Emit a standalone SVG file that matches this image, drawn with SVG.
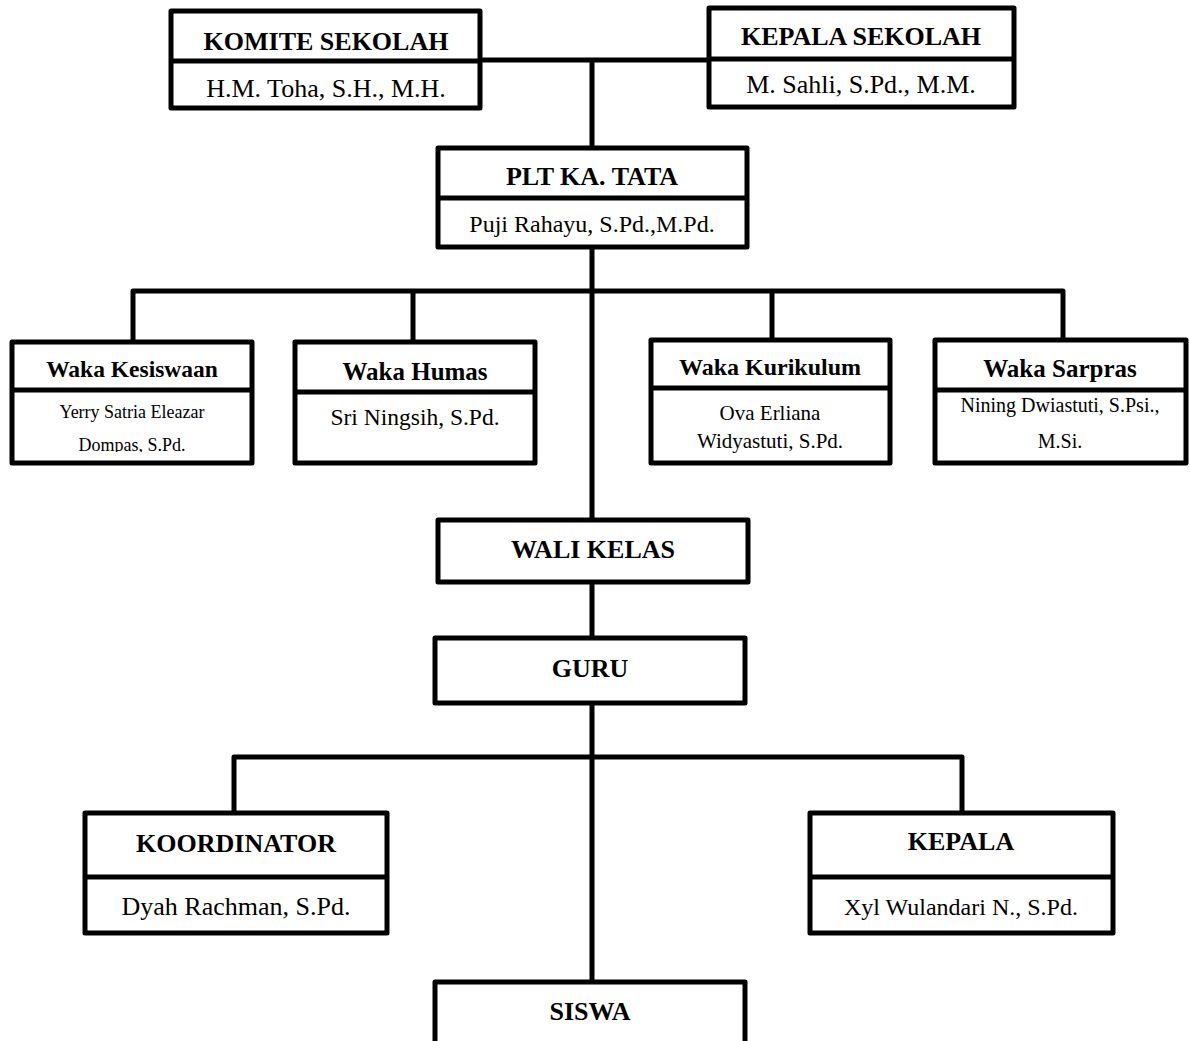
<svg xmlns="http://www.w3.org/2000/svg" width="1190" height="1041" viewBox="0 0 1190 1041">
<style>
.box{fill:#fff;stroke:#000;stroke-width:5;stroke-linejoin:round}
.div{stroke:#000;stroke-width:5;fill:none}
.con{stroke:#000;stroke-width:5;fill:none;stroke-linejoin:round}
text{font-family:"Liberation Serif","Times New Roman",serif;fill:#000;text-anchor:middle}
.b{font-weight:bold}
</style>
<defs>
<clipPath id="clipKes"><rect x="12" y="392" width="240" height="60"/></clipPath>
</defs>
<rect width="1190" height="1041" fill="#fff"/>
<g id="connectors" class="con">
<path d="M479 60 H709"/>
<path d="M592 60 V982"/>
<path d="M133 342 V291 H1063 V340"/>
<path d="M413 291 V342"/>
<path d="M772 291 V340"/>
<path d="M234 813 V757 H962 V813"/>
</g>
<g id="komite">
<rect class="box" x="171" y="11" width="309" height="97"/>
<line class="div" x1="171" y1="61" x2="480" y2="61"/>
<text class="b" x="326" y="50" font-size="26">KOMITE SEKOLAH</text>
<text x="326" y="97" font-size="26">H.M. Toha, S.H., M.H.</text>
</g>
<g id="kepala-sekolah">
<rect class="box" x="709" y="8" width="305" height="99"/>
<line class="div" x1="709" y1="59" x2="1014" y2="59"/>
<text class="b" x="861" y="45" font-size="26">KEPALA SEKOLAH</text>
<text x="861" y="93" font-size="26">M. Sahli, S.Pd., M.M.</text>
</g>
<g id="plt">
<rect class="box" x="438" y="148" width="309" height="99"/>
<line class="div" x1="438" y1="198" x2="747" y2="198"/>
<text class="b" x="592" y="185" font-size="26">PLT KA. TATA</text>
<text x="592" y="232" font-size="24">Puji Rahayu, S.Pd.,M.Pd.</text>
</g>
<g id="waka-kesiswaan">
<rect class="box" x="12" y="342" width="240" height="121"/>
<line class="div" x1="12" y1="390" x2="252" y2="390"/>
<text class="b" x="132" y="377" font-size="23.5">Waka Kesiswaan</text>
<g clip-path="url(#clipKes)">
<text x="132" y="418" font-size="18">Yerry Satria Eleazar</text>
<text x="132" y="451" font-size="18">Dompas, S.Pd.</text>
</g>
</g>
<g id="waka-humas">
<rect class="box" x="295" y="342" width="240" height="121"/>
<line class="div" x1="295" y1="392" x2="535" y2="392"/>
<text class="b" x="415" y="380" font-size="25">Waka Humas</text>
<text x="415" y="425" font-size="23.5">Sri Ningsih, S.Pd.</text>
</g>
<g id="waka-kurikulum">
<rect class="box" x="651" y="340" width="239" height="123"/>
<line class="div" x1="651" y1="388" x2="890" y2="388"/>
<text class="b" x="770" y="375" font-size="24">Waka Kurikulum</text>
<text x="770" y="420" font-size="21">Ova Erliana</text>
<text x="770" y="448" font-size="21">Widyastuti, S.Pd.</text>
</g>
<g id="waka-sarpras">
<rect class="box" x="935" y="340" width="251" height="123"/>
<line class="div" x1="935" y1="390" x2="1186" y2="390"/>
<text class="b" x="1060" y="377" font-size="25">Waka Sarpras</text>
<text x="1060" y="412" font-size="20">Nining Dwiastuti, S.Psi.,</text>
<text x="1060" y="448" font-size="20">M.Si.</text>
</g>
<g id="wali-kelas">
<rect class="box" x="438" y="520" width="310" height="62"/>
<text class="b" x="593" y="558" font-size="26">WALI KELAS</text>
</g>
<g id="guru">
<rect class="box" x="435" y="638" width="310" height="65"/>
<text class="b" x="590" y="677" font-size="26">GURU</text>
</g>
<g id="koordinator">
<rect class="box" x="85" y="813" width="302" height="120"/>
<line class="div" x1="85" y1="877" x2="387" y2="877"/>
<text class="b" x="236" y="852" font-size="26">KOORDINATOR</text>
<text x="236" y="915" font-size="26">Dyah Rachman, S.Pd.</text>
</g>
<g id="kepala">
<rect class="box" x="810" y="813" width="303" height="120"/>
<line class="div" x1="810" y1="877" x2="1113" y2="877"/>
<text class="b" x="961" y="850" font-size="26">KEPALA</text>
<text x="961" y="915" font-size="24">Xyl Wulandari N., S.Pd.</text>
</g>
<g id="siswa">
<rect class="box" x="435" y="982" width="310" height="80"/>
<text class="b" x="590" y="1020" font-size="26">SISWA</text>
</g>
</svg>
